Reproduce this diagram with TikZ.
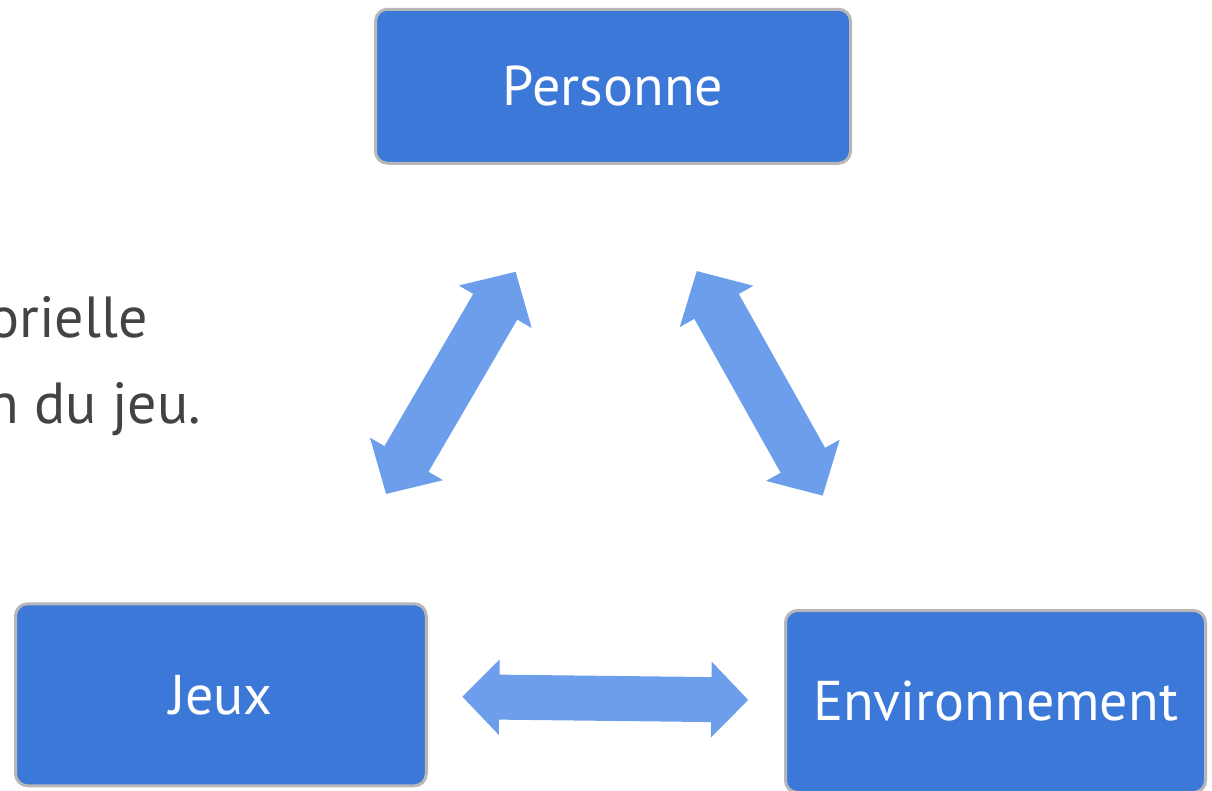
\documentclass[tikz,border=0pt]{standalone}
\usepackage{fontspec}
\setmainfont{PT Sans}
\usetikzlibrary{positioning, arrows.meta}

\definecolor{boxblue}{HTML}{3C78D8}
\definecolor{arrowblue}{HTML}{6D9EEB}
\definecolor{boxborder}{HTML}{B7B7B7}
\definecolor{textgray}{HTML}{434343}

\begin{document}
\begin{tikzpicture}
[
    x=1pt, y=-1pt,
    % The boxes are named box-p, box-j, box-e
    % Arrow ends are named A-<arrow>-<end>
]

%=================================== Start ===================================
\tikzstyle{box}  = [
    draw=boxborder, line width=3pt, fill=boxblue, rounded corners=12pt,
    text=white, font=\fontsize{56}{64}\selectfont, minimum height=182pt
]
\tikzstyle{link} = [
    draw=arrowblue, line width=51pt,
    {Triangle[length=40.6pt, width=82pt]}-{Triangle[length=40.6pt, width=82pt]}
]
\tikzstyle{flat} = [
    draw=arrowblue, line width=45pt,
    {Triangle[length=37pt, width=73.5pt]}-{Triangle[length=37pt, width=73.5pt]}
]
\tikzstyle{frag} = [anchor=base east, inner sep=0pt, text=textgray,
    font=\fontsize{58}{70}\selectfont]

\useasboundingbox (0,0) rectangle (1212,790);
\clip (0,0) rectangle (1212,790);
{
    % Draw the cut text on the left
    \node[frag] (txt-0) at (148,337) {orielle};
    \node[frag] (txt-1) at (201,423) {n du jeu.};

    % Draw boxes
    \node[box, minimum width=475pt, minimum height=154pt] (box-p) at (613,86.25) {Personne};
    \node[box, minimum width=410.7pt] (box-j) at (220.9,694.8) {Jeux};
    \node[box, minimum width=420pt]   (box-e) at (995.5,701.5) {Environnement};

    % Arrow ends
    \foreach \n / \xa / \ya / \xb / \yb in {0/515.7/271.7/386/494,
                                            1/696.7/271/822.7/495.7,
                                            2/462.3/696.7/748.3/700}
    {
        \coordinate (A-\n-a) at (\xa,\ya);
        \coordinate (A-\n-b) at (\xb,\yb);
    }

    % Connect boxes
    \foreach \n in {0,1}
        \path (A-\n-a) edge[link] (A-\n-b);
    \path (A-2-a) edge[flat] (A-2-b);
}
%==================================== END ====================================

\end{tikzpicture}
\end{document}
